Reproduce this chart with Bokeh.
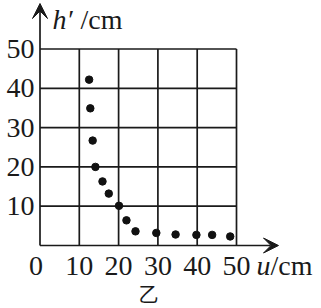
from bokeh.plotting import figure
from bokeh.models import Range1d, Arrow, VeeHead
from bokeh.core.properties import value
from bokeh.embed import file_html
from bokeh.resources import INLINE

# data
u_cm = [12.5, 12.8, 13.4, 14.1, 15.9, 17.5, 20.1, 22.0, 24.3, 29.6, 34.5, 39.8, 43.8, 48.4]
h_cm = [42.2, 34.9, 26.7, 20.0, 16.3, 13.2, 10.1, 6.4, 3.6, 3.2, 2.8, 2.7, 2.7, 2.3]
x_ticks = [10, 20, 30, 40, 50]
x_tick_labels = ["10", "20", "30", "40", "50"]
y_ticks = [10, 20, 30, 40, 50]
y_tick_labels = ["10", "20", "30", "40", "50"]
grid_max = 50
x_axis_title = "u"
y_axis_title = "h′"
unit = "/cm"
caption = "乙"

W, H = 321, 308
k = 3.93          # pixels per unit
x0_px, y0_px = 39.5, 245.0

p = figure(width=W, height=H, output_backend="svg", toolbar_location=None,
           x_range=Range1d(-x0_px / k, (W - x0_px) / k),
           y_range=Range1d(-(H - y0_px) / k, y0_px / k),
           x_axis_location=None, y_axis_location=None, min_border=0)
p.grid.visible = False
p.outline_line_color = None
p.background_fill_color = "white"
p.border_fill_color = "white"

ink = "#1a1a1a"
lw = 1.7

# grid lines (vertical and horizontal), including the top and right border
p.segment(x0=x_ticks, y0=[0] * len(x_ticks), x1=x_ticks, y1=[grid_max] * len(x_ticks),
          line_color=ink, line_width=lw)
p.segment(x0=[0] * len(y_ticks), y0=y_ticks, x1=[grid_max] * len(y_ticks), y1=y_ticks,
          line_color=ink, line_width=lw)

# axes with arrow heads
head_x = VeeHead(size=15, fill_color=ink, line_color=ink, line_width=1)
head_y = VeeHead(size=15, fill_color=ink, line_color=ink, line_width=1)
p.add_layout(Arrow(end=head_x, x_start=0, y_start=0, x_end=(278 - x0_px) / k, y_end=0,
                   line_color=ink, line_width=lw))
p.add_layout(Arrow(end=head_y, x_start=0, y_start=0, x_end=0, y_end=(y0_px - 3) / k,
                   line_color=ink, line_width=lw))

# data points
p.scatter(u_cm, h_cm, size=7.5, fill_color="#111111", line_color="#111111")

serif = value("Liberation Serif")
fs = "28px"
mid_x = -(265 - y0_px) / k
mid_top = (y0_px - 19) / k

# tick labels
p.text(x=x_ticks, y=[mid_x] * len(x_ticks), text=x_tick_labels, text_font=serif,
       text_font_size=fs, text_align="center", text_baseline="middle", text_color=ink)
p.text(x=[-1.0], y=[mid_x], text=["0"], text_font=serif,
       text_font_size=fs, text_align="center", text_baseline="middle", text_color=ink)
p.text(x=[-(39.5 - 34) / k] * len(y_ticks), y=y_ticks, text=y_tick_labels, text_font=serif,
       text_font_size=fs, text_align="right", text_baseline="middle", text_color=ink)

# axis titles
p.text(x=[(52 - x0_px) / k], y=[mid_top], text=[y_axis_title], text_font=serif,
       text_font_size=fs, text_font_style="italic", text_baseline="middle", text_color=ink)
p.text(x=[(80 - x0_px) / k], y=[mid_top], text=[unit], text_font=serif,
       text_font_size=fs, text_baseline="middle", text_color=ink)
p.text(x=[(256 - x0_px) / k], y=[mid_x], text=[x_axis_title], text_font=serif,
       text_font_size=fs, text_font_style="italic", text_baseline="middle", text_color=ink)
p.text(x=[(270 - x0_px) / k], y=[mid_x], text=[unit], text_font=serif,
       text_font_size=fs, text_baseline="middle", text_color=ink)

# caption
p.text(x=[(148 - x0_px) / k], y=[(y0_px - 293) / k], text=[caption],
       text_font=value("Noto Sans CJK SC"), text_font_size="20px",
       text_align="center", text_baseline="middle", text_color=ink)

open("out.html", "w").write(file_html(p, INLINE))
